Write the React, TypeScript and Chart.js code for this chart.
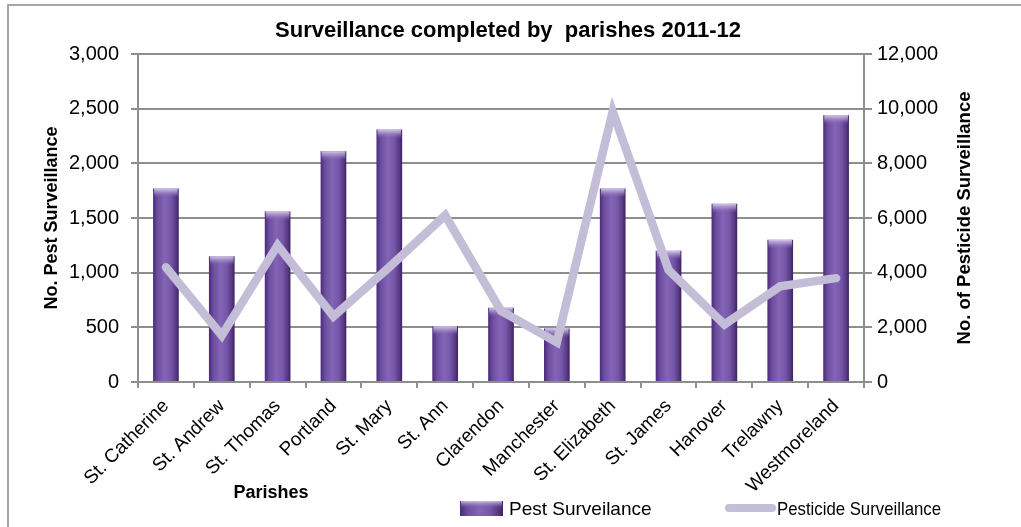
import React, { useEffect, useRef } from "react";
import { Chart, registerables } from "chart.js";

Chart.register(...registerables);

const parishes = [
  "St. Catherine", "St. Andrew", "St. Thomas", "Portland", "St. Mary", "St. Ann",
  "Clarendon", "Manchester", "St. Elizabeth", "St. James", "Hanover", "Trelawny", "Westmoreland",
];
const pestSurveillance = [1770, 1150, 1560, 2110, 2310, 510, 680, 490, 1770, 1200, 1630, 1300, 2440];
const pesticideSurveillance = [4200, 1700, 5000, 2400, 4200, 6100, 2600, 1450, 9900, 4100, 2100, 3500, 3800];
const leftTicks = [0, 500, 1000, 1500, 2000, 2500, 3000];
const rightTicks = [0, 2000, 4000, 6000, 8000, 10000, 12000];

const TITLE = "Surveillance completed by  parishes 2011-12";
const LEFT_TITLE = "No. Pest Surveillance";
const RIGHT_TITLE = "No. of Pesticide Surveillance";
const X_TITLE = "Parishes";
const BAR_LABEL = "Pest Surveilance";
const LINE_LABEL = "Pesticide Surveillance";

const FONT = "'Liberation Sans', Arial, sans-serif";
const GRID = "#8e8e8e";
const LINE_COLOR = "#c4bdd7";
const BAR_PCT = 0.46;

const fmt = (v: number) => v.toLocaleString("en-US");

function barGradient(ctx: CanvasRenderingContext2D, x0: number, x1: number) {
  const g = ctx.createLinearGradient(x0, 0, x1, 0);
  g.addColorStop(0, "#4a2c78");
  g.addColorStop(0.18, "#6d4ea0");
  g.addColorStop(0.45, "#8464b4");
  g.addColorStop(0.7, "#7656a8");
  g.addColorStop(0.9, "#56377f");
  g.addColorStop(1, "#3c2262");
  return g;
}

const decorPlugin = {
  id: "decor",
  beforeDraw(chart: any) {
    const c = chart.ctx as CanvasRenderingContext2D;
    c.save();
    c.fillStyle = "#ffffff";
    c.fillRect(0, 0, chart.width, chart.height);
    c.strokeStyle = "#a6a6a6";
    c.lineWidth = 2;
    c.beginPath();
    c.moveTo(8, chart.height);
    c.lineTo(8, 5);
    c.lineTo(chart.width, 5);
    c.stroke();
    c.restore();
  },
  afterDatasetDraw(chart: any, args: any) {
    if (args.index !== 0) return;
    const c = chart.ctx as CanvasRenderingContext2D;
    const meta = chart.getDatasetMeta(0);
    c.save();
    meta.data.forEach((bar: any) => {
      const { x, y, width } = bar.getProps(["x", "y", "width"], true);
      if (![x, y, width].every(Number.isFinite)) return;
      const g = c.createLinearGradient(0, y, 0, y + 9);
      g.addColorStop(0, "rgba(215,205,235,0.95)");
      g.addColorStop(0.45, "rgba(170,150,205,0.7)");
      g.addColorStop(1, "rgba(130,100,180,0)");
      c.fillStyle = g;
      c.fillRect(x - width / 2 + 1, y, width - 2, 9);
    });
    c.restore();
  },
  afterDraw(chart: any) {
    const c = chart.ctx as CanvasRenderingContext2D;
    const area = chart.chartArea;
    c.save();
    c.fillStyle = "#000000";
    c.textBaseline = "middle";
    c.textAlign = "center";
    c.font = `bold 22px ${FONT}`;
    c.fillText(TITLE, 508, 31);

    c.font = `bold 18px ${FONT}`;
    const midY = (area.top + area.bottom) / 2;
    c.save();
    c.translate(52, midY);
    c.rotate(-Math.PI / 2);
    c.fillText(LEFT_TITLE, 0, 0);
    c.restore();
    c.save();
    c.font = `bold 18.5px ${FONT}`;
    c.translate(965, midY);
    c.rotate(-Math.PI / 2);
    c.fillText(RIGHT_TITLE, 0, 0);
    c.restore();

    c.fillText(X_TITLE, 271, 493);

    // legend
    const ly = 509;
    c.fillStyle = barGradient(c, 460, 503);
    c.fillRect(460, ly - 8, 43, 15);
    const hg = c.createLinearGradient(0, ly - 8, 0, ly - 1);
    hg.addColorStop(0, "rgba(215,205,235,0.9)");
    hg.addColorStop(1, "rgba(130,100,180,0)");
    c.fillStyle = hg;
    c.fillRect(461, ly - 8, 41, 7);
    c.fillStyle = "#000000";
    c.textAlign = "left";
    c.font = `19px ${FONT}`;
    c.fillText(BAR_LABEL, 509, ly + 1);

    c.strokeStyle = LINE_COLOR;
    c.lineWidth = 8;
    c.lineCap = "round";
    c.beginPath();
    c.moveTo(729, ly - 1);
    c.lineTo(772, ly - 1);
    c.stroke();
    c.fillText(LINE_LABEL, 777, ly + 1, 164);
    c.restore();
  },
};

export default function App() {
  const ref = useRef<HTMLCanvasElement | null>(null);

  useEffect(() => {
    if (!ref.current) return;
    Chart.defaults.font.family = FONT;
    const chart = new Chart(ref.current, {
      type: "bar",
      data: {
        labels: parishes,
        datasets: [
          {
            type: "bar",
            label: BAR_LABEL,
            data: pestSurveillance,
            yAxisID: "y",
            order: 2,
            barPercentage: BAR_PCT,
            categoryPercentage: 1,
            borderWidth: 0,
            backgroundColor: (ctx: any) => {
              const ch = ctx.chart;
              const xs = ch.scales?.x;
              if (ctx.type !== "data" || !xs || !ch.chartArea) return "#7656a8";
              const cx = xs.getPixelForValue(ctx.dataIndex);
              const w = (xs.width / parishes.length) * BAR_PCT;
              if (!Number.isFinite(cx) || !Number.isFinite(w) || w <= 0) return "#7656a8";
              return barGradient(ch.ctx, cx - w / 2, cx + w / 2);
            },
          },
          {
            type: "line",
            label: LINE_LABEL,
            data: pesticideSurveillance,
            yAxisID: "y1",
            order: 1,
            borderColor: LINE_COLOR,
            backgroundColor: LINE_COLOR,
            borderWidth: 8.5,
            borderJoinStyle: "miter",
            borderCapStyle: "round",
            pointRadius: 0,
            pointHoverRadius: 0,
            tension: 0,
            fill: false,
          },
        ],
      },
      options: {
        responsive: false,
        animation: false,
        events: [],
        layout: { padding: { top: 54, left: 0, right: 0, bottom: 0 } },
        plugins: {
          legend: { display: false },
          title: { display: false },
          tooltip: { enabled: false },
        },
        scales: {
          x: {
            offset: true,
            grid: {
              offset: true,
              drawOnChartArea: false,
              drawTicks: true,
              tickLength: 6,
              color: GRID,
              lineWidth: 2,
            },
            border: { display: true, color: GRID, width: 2 },
            ticks: {
              color: "#000000",
              font: { size: 19 },
              minRotation: 45,
              maxRotation: 45,
              autoSkip: false,
              padding: 7,
            },
            afterFit: (s: any) => {
              s.height = 145;
            },
          },
          y: {
            position: "left",
            min: 0,
            max: 3000,
            afterBuildTicks: (s: any) => {
              s.ticks = leftTicks.map((v) => ({ value: v }));
            },
            grid: { color: GRID, lineWidth: 2, tickLength: 7 },
            border: { display: true, color: GRID, width: 2 },
            ticks: {
              color: "#000000",
              font: { size: 20 },
              padding: 12,
              callback: (v: any) => fmt(Number(v)),
            },
            afterFit: (s: any) => {
              s.width = 138;
            },
          },
          y1: {
            position: "right",
            min: 0,
            max: 12000,
            afterBuildTicks: (s: any) => {
              s.ticks = rightTicks.map((v) => ({ value: v }));
            },
            grid: { drawOnChartArea: false, color: GRID, lineWidth: 2, tickLength: 8 },
            border: { display: true, color: GRID, width: 2 },
            ticks: {
              color: "#000000",
              font: { size: 20 },
              padding: 5,
              callback: (v: any) => fmt(Number(v)),
            },
            afterFit: (s: any) => {
              s.width = 157;
            },
          },
        },
      },
      plugins: [decorPlugin],
    } as any);
    return () => chart.destroy();
  }, []);

  return (
    <div style={{ position: "absolute", left: 0, top: 0, width: 1021, height: 527 }}>
      <canvas ref={ref} width={1021} height={527} style={{ display: "block", width: 1021, height: 527 }} />
    </div>
  );
}
